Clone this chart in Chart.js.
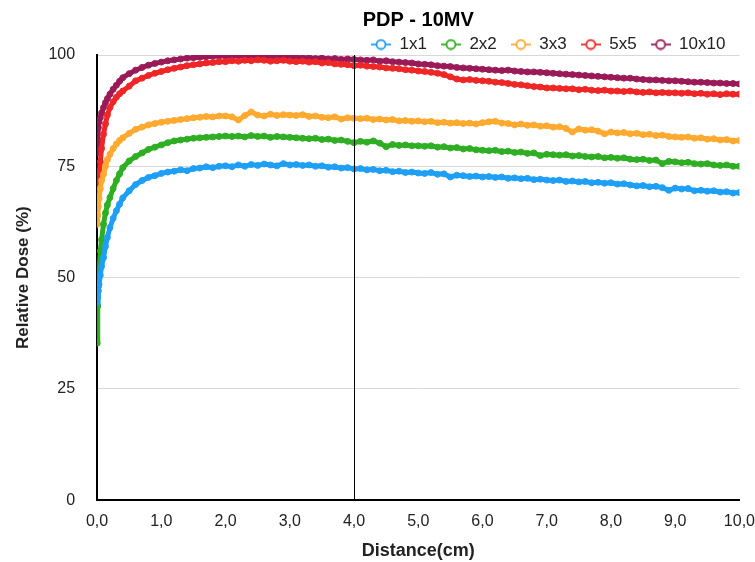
<!DOCTYPE html>
<html>
<head>
<meta charset="utf-8">
<script src="https://cdn.jsdelivr.net/npm/chart.js@4/dist/chart.umd.min.js"></script>
<style>
  body { margin: 0; background: #fff; }
  #wrap { width: 755px; height: 562px; }
</style>
</head>
<body>
<div id="wrap"><canvas id="pdpChart"></canvas></div>
<script>
// Profundidade (cm)
const distance = [
    0, 0.01, 0.02, 0.03, 0.05, 0.07, 0.1, 0.13, 0.16, 0.2, 0.25, 0.3, 0.35, 0.4,
    0.5, 0.6, 0.7, 0.8, 0.9, 1.0,
    1.1, 1.2, 1.3, 1.4, 1.5, 1.6, 1.7, 1.8, 1.9, 2.0,
    2.1, 2.2, 2.3, 2.4, 2.5, 2.6, 2.7, 2.8, 2.9, 3.0,
    3.1, 3.2, 3.3, 3.4, 3.5, 3.6, 3.7, 3.8, 3.9, 4.0,
    4.1, 4.2, 4.3, 4.4, 4.5, 4.6, 4.7, 4.8, 4.9, 5.0,
    5.1, 5.2, 5.3, 5.4, 5.5, 5.6, 5.7, 5.8, 5.9, 6.0,
    6.1, 6.2, 6.3, 6.4, 6.5, 6.6, 6.7, 6.8, 6.9, 7.0,
    7.1, 7.2, 7.3, 7.4, 7.5, 7.6, 7.7, 7.8, 7.9, 8.0,
    8.1, 8.2, 8.3, 8.4, 8.5, 8.6, 8.7, 8.8, 8.9, 9.0,
    9.1, 9.2, 9.3, 9.4, 9.5, 9.6, 9.7, 9.8, 9.9, 10.0
];

const field1x1 = [
    44.3, 45.5, 47.0, 48.5, 50.5, 52.5, 54.5, 57.0, 59.0, 61.2, 63.3, 65.0, 66.5, 67.9,
    69.5, 70.9, 71.8, 72.5, 72.9, 73.4,
    73.7, 73.9, 74.2, 74.0, 74.5, 74.6, 74.9, 74.7, 75.0, 75.1,
    74.9, 75.3, 75.0, 75.4, 75.2, 75.5, 75.3, 75.1, 75.6, 75.3,
    75.4, 75.2, 75.3, 75.0, 75.1, 74.8, 74.9, 74.6, 74.7, 74.4,
    74.5, 74.2, 74.3, 74.0, 74.1, 73.8, 73.9, 73.6, 73.7, 73.5,
    73.4, 73.6, 73.2, 73.3, 72.6, 73.0, 72.9, 72.7, 72.8, 72.6,
    72.7, 72.5, 72.6, 72.3, 72.4, 72.2, 72.3, 72.0, 72.1, 71.9,
    71.8, 71.9, 71.6, 71.7, 71.5, 71.6, 71.3, 71.4, 71.2, 71.3,
    71.0, 71.1, 70.8, 70.6, 70.7, 70.4, 70.5, 70.2, 69.6, 70.1,
    69.9, 70.0, 69.5, 69.6, 69.4, 69.5, 69.2, 69.3, 69.0, 69.1
];

const field2x2 = [
    35.3, 43.6, 48.0, 51.5, 56.0, 58.5, 62.0, 64.5, 66.3, 68.0, 70.0, 71.8, 73.3, 74.7,
    76.2, 77.2, 78.0, 78.8, 79.3, 79.8,
    80.3, 80.7, 80.9, 81.1, 81.3, 81.4, 81.5, 81.6, 81.7, 81.8,
    81.7, 81.8, 81.6, 81.9, 81.7, 81.8, 81.5, 81.7, 81.6, 81.5,
    81.4, 81.3, 81.2, 81.3, 81.0, 81.1, 80.8, 80.9, 80.6, 80.3,
    80.6, 80.4, 80.7, 80.2, 79.4, 79.9, 79.7, 79.8, 79.6, 79.6,
    79.5, 79.6, 79.3, 79.4, 79.1, 79.2, 78.9, 79.0, 78.7, 78.6,
    78.5, 78.6, 78.3, 78.4, 78.1, 78.2, 77.9, 78.0, 77.4, 77.7,
    77.6, 77.5, 77.6, 77.3, 77.4, 77.2, 77.1, 77.2, 76.9, 77.0,
    76.8, 76.9, 76.6, 76.5, 76.6, 76.3, 76.4, 75.6, 76.1, 76.0,
    75.8, 75.9, 75.6, 75.5, 75.6, 75.3, 75.2, 75.3, 75.0, 75.0
];

const field3x3 = [
    62.0, 64.0, 66.0, 67.8, 70.0, 71.8, 73.2, 75.0, 76.5, 77.7, 79.0, 80.0, 80.8, 81.4,
    82.4, 83.3, 83.8, 84.3, 84.6, 84.9,
    85.1, 85.3, 85.5, 85.7, 85.9, 86.0, 86.2, 86.1, 86.3, 86.3,
    86.1, 85.4, 86.4, 87.2, 86.5, 86.3, 86.7, 86.4, 86.6, 86.5,
    86.4, 86.6, 86.2, 86.3, 86.0, 85.9, 86.1, 85.6, 85.9, 85.8,
    85.7, 85.8, 85.5, 85.6, 85.4, 85.5, 85.2, 85.3, 85.1, 85.2,
    85.0, 85.1, 84.8, 84.9, 84.7, 84.8, 84.6, 84.7, 84.5, 84.8,
    85.0, 85.1, 84.7, 84.6, 84.3, 84.5, 84.2, 84.3, 84.0, 84.1,
    83.8, 83.9, 83.5, 82.7, 83.4, 83.1, 83.2, 82.9, 82.3, 82.7,
    82.5, 82.6, 82.3, 82.4, 82.1, 82.2, 81.9, 82.0, 81.7, 81.6,
    81.5, 81.6, 81.3, 81.4, 81.1, 81.2, 80.9, 81.0, 80.7, 80.8
];

const field5x5 = [
    65.7, 69.0, 71.7, 73.5, 76.0, 79.0, 82.2, 84.5, 86.5, 88.2, 89.5, 90.5, 91.3, 91.9,
    93.0, 94.2, 94.8, 95.4, 95.9, 96.3,
    96.7, 97.0, 97.3, 97.6, 97.8, 98.0, 98.2, 98.3, 98.5, 98.5,
    98.7, 98.6, 98.8, 98.7, 98.9, 98.8, 98.6, 98.7, 98.8, 98.6,
    98.5, 98.6, 98.4, 98.5, 98.2, 98.3, 98.0, 97.9, 97.8, 97.6,
    97.7, 97.5, 97.4, 97.3, 97.1, 97.0, 96.9, 96.7, 96.6, 96.4,
    96.3, 96.1, 95.9, 95.6, 95.1, 94.6, 94.4, 94.5, 94.3, 94.2,
    94.1, 93.9, 93.8, 93.6, 93.4, 93.3, 93.1, 92.9, 92.8, 92.6,
    92.6, 92.5, 92.4, 92.4, 92.2, 92.3, 92.1, 92.0, 92.1, 91.9,
    91.9, 91.8, 91.9, 91.7, 91.6, 91.7, 91.5, 91.6, 91.5, 91.5,
    91.4, 91.5, 91.3, 91.4, 91.2, 91.3, 91.1, 91.3, 91.2, 91.2
];

const field10x10 = [
    78.0, 81.0, 83.7, 85.0, 85.9, 87.0, 88.2, 89.3, 90.2, 91.2, 92.3, 93.2, 94.1, 94.9,
    95.8, 96.6, 97.2, 97.7, 98.1, 98.4,
    98.7, 98.9, 99.1, 99.3, 99.4, 99.5, 99.6, 99.7, 99.8, 99.8,
    99.7, 99.9, 99.8, 99.7, 99.8, 99.6, 99.7, 99.5, 99.6, 99.4,
    99.5, 99.3, 99.4, 99.2, 99.3, 99.1, 99.2, 99.0, 99.1, 99.0,
    98.9, 98.8, 98.9, 98.6, 98.7, 98.5, 98.4, 98.3, 98.2, 98.0,
    97.9, 97.8, 97.6, 97.5, 97.4, 97.2, 97.1, 97.0, 96.9, 96.8,
    96.7, 96.6, 96.5, 96.6, 96.4, 96.3, 96.2, 96.2, 96.1, 96.0,
    95.9, 95.8, 95.7, 95.6, 95.5, 95.4, 95.3, 95.2, 95.1, 95.0,
    94.9, 94.8, 94.8, 94.6, 94.5, 94.4, 94.4, 94.3, 94.2, 94.2,
    94.1, 94.0, 93.9, 93.9, 93.8, 93.7, 93.7, 93.6, 93.6, 93.5
];

const fieldLabels = ['1x1', '2x2', '3x3', '5x5', '10x10'];
const fieldValues = [field1x1, field2x2, field3x3, field5x5, field10x10];
const fieldColors = ['#1e9ff5', '#2fae22', '#ffa92f', '#ef2626', '#9a1a58'];
const markedDistance = 4;

// Marcador da legenda: linha com circulo vazado
function legendMarker(color) {
    const c = document.createElement('canvas');
    c.width = 20;
    c.height = 12;
    const g = c.getContext('2d');
    g.strokeStyle = color;
    g.lineWidth = 1.8;
    g.beginPath();
    g.moveTo(0, 6);
    g.lineTo(20, 6);
    g.stroke();
    g.fillStyle = '#fff';
    g.beginPath();
    g.arc(10, 6, 4.5, 0, Math.PI * 2);
    g.fill();
    g.stroke();
    return c;
}
const legendMarkers = fieldColors.map(legendMarker);

// Legenda mais baixa (encosta no topo do grafico)
const legendSqueeze = {
    id: 'legendSqueeze',
    beforeInit(chart) {
        const legend = chart.legend;
        if (!legend) return;
        const fit = legend.fit.bind(legend);
        legend.fit = function() {
            fit();
            this.height = Math.max(this.height - 8, 0);
        };
    }
};

// Linha vertical em 4 cm
const markerLine = {
    id: 'markerLine',
    afterDatasetsDraw(chart) {
        const { ctx, chartArea, scales } = chart;
        const x = Math.round(scales.x.getPixelForValue(markedDistance)) + 0.5;
        ctx.save();
        ctx.strokeStyle = '#000';
        ctx.lineWidth = 1;
        ctx.beginPath();
        ctx.moveTo(x, chartArea.top);
        ctx.lineTo(x, chartArea.bottom);
        ctx.stroke();
        ctx.restore();
    }
};

const datasets = fieldLabels.map((label, i) => ({
    label: label,
    data: distance.map((d, k) => ({ x: d, y: fieldValues[i][k] })),
    borderColor: fieldColors[i],
    backgroundColor: fieldColors[i],
    borderWidth: 5,
    pointRadius: 3,
    pointBorderWidth: 1,
    pointBorderColor: fieldColors[i],
    pointBackgroundColor: fieldColors[i] + 'bb',
    tension: 0
}));

const sans = "'Liberation Sans', Arial, Helvetica, sans-serif";

new Chart(document.getElementById('pdpChart'), {
    type: 'line',
    data: { datasets: datasets },
    plugins: [legendSqueeze, markerLine],
    options: {
        responsive: true,
        maintainAspectRatio: false,
        animation: false,
        layout: { padding: { left: 13, right: 0, top: 0, bottom: 0 } },
        plugins: {
            title: {
                display: true,
                text: 'PDP - 10MV',
                fullSize: false,
                color: '#000',
                font: { family: sans, size: 20, weight: 'bold' },
                padding: { top: 8, bottom: -10 }
            },
            legend: {
                display: true,
                position: 'top',
                align: 'end',
                fullSize: false,
                labels: {
                    usePointStyle: true,
                    pointStyleWidth: 20,
                    boxHeight: 12,
                    padding: 14,
                    color: '#222',
                    font: { family: sans, size: 17 },
                    generateLabels: function(chart) {
                        const items = Chart.defaults.plugins.legend.labels.generateLabels(chart);
                        items.forEach((item, i) => { item.pointStyle = legendMarkers[i]; });
                        return items;
                    }
                }
            },
            tooltip: { enabled: false }
        },
        scales: {
            x: {
                type: 'linear',
                min: 0,
                max: 10,
                grid: { display: true, color: 'transparent', drawTicks: true, tickLength: 12, tickColor: 'transparent' },
                border: { display: true, color: '#000', width: 2 },
                ticks: {
                    stepSize: 1,
                    color: '#222',
                    padding: 0,
                    font: { family: sans, size: 16 },
                    maxRotation: 0,
                    callback: v => v.toFixed(1).replace('.', ',')
                },
                title: {
                    display: true,
                    text: 'Distance(cm)',
                    color: '#222',
                    font: { family: sans, size: 18, weight: 'bold' },
                    padding: { top: 9, bottom: 0 }
                }
            },
            y: {
                min: 0,
                max: 100,
                grid: { color: '#d8d8d8', lineWidth: 1, drawTicks: false },
                border: { display: true, color: '#000', width: 2 },
                ticks: {
                    stepSize: 25,
                    color: '#222',
                    padding: 22,
                    font: { family: sans, size: 16 }
                },
                title: {
                    display: true,
                    text: 'Relative Dose (%)',
                    color: '#222',
                    font: { family: sans, size: 17, weight: 'bold' },
                    padding: { top: 0, bottom: -7 }
                }
            }
        }
    }
});
</script>
</body>
</html>
